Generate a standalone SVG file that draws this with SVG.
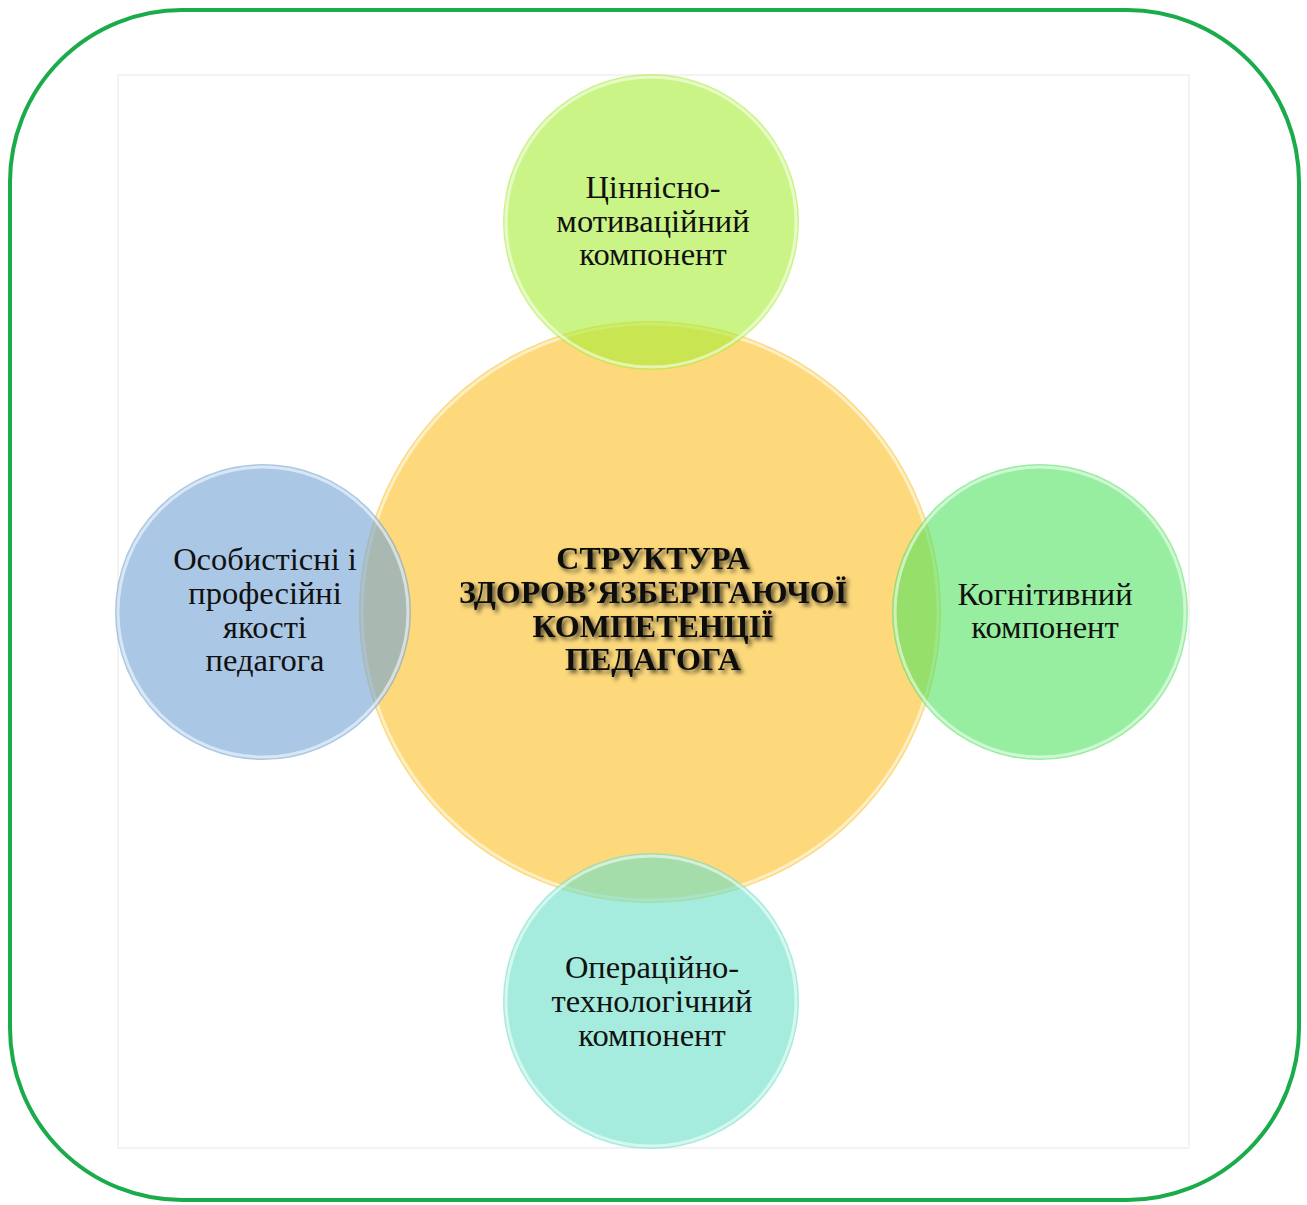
<svg xmlns="http://www.w3.org/2000/svg" width="1307" height="1205" viewBox="0 0 1307 1205">
<defs>
<filter id="shadow" x="-10%" y="-20%" width="120%" height="140%">
<feDropShadow dx="3" dy="3" stdDeviation="2" flood-color="#000000" flood-opacity="0.65"/>
</filter>
</defs>
<style>
.lbl{font-family:"Liberation Serif","Times New Roman",serif;font-size:32.5px;fill:#111111;text-anchor:middle}
.ttl{font-family:"Liberation Serif","Times New Roman",serif;font-size:32px;font-weight:bold;fill:#111111;text-anchor:middle}
.sat{fill-opacity:0.6}
.rim{fill:none;stroke:#ffffff;stroke-opacity:0.55;stroke-width:3}
</style>
<rect x="0" y="0" width="1307" height="1205" fill="#ffffff"/>
<rect x="10" y="10" width="1289" height="1190" rx="172" ry="172" fill="#ffffff" stroke="#1aab4b" stroke-width="4"/>
<rect x="118" y="75" width="1071" height="1073" fill="none" stroke="#efefef" stroke-width="1.5"/>
<g id="connectors"/>
<g id="center">
<circle cx="650" cy="612" r="291" fill="#fdd97c"/>
<circle cx="650" cy="612" r="288" class="rim" stroke-opacity="0.35"/>
</g>
<g id="top">
<circle cx="651" cy="222" r="148" fill="#a6ec35" class="sat"/>
<circle cx="651" cy="222" r="145" class="rim"/>
<text class="lbl" x="653" y="198">Ціннісно-</text>
<text class="lbl" x="653" y="232">мотиваційний</text>
<text class="lbl" x="653" y="265">компонент</text>
</g>
<g id="left">
<circle cx="263" cy="612" r="148" fill="#71a3d5" class="sat"/>
<circle cx="263" cy="612" r="145" class="rim"/>
<text class="lbl" x="265" y="570">Особистісні і</text>
<text class="lbl" x="265" y="604">професійні</text>
<text class="lbl" x="265" y="638">якості</text>
<text class="lbl" x="265" y="671">педагога</text>
</g>
<g id="right">
<circle cx="1040" cy="612" r="148" fill="#53e361" class="sat"/>
<circle cx="1040" cy="612" r="145" class="rim"/>
<text class="lbl" x="1045" y="605">Когнітивний</text>
<text class="lbl" x="1045" y="638">компонент</text>
</g>
<g id="bottom">
<circle cx="651" cy="1001" r="148" fill="#69dfc8" class="sat"/>
<circle cx="651" cy="1001" r="145" class="rim"/>
<text class="lbl" x="652" y="978">Операційно-</text>
<text class="lbl" x="652" y="1012">технологічний</text>
<text class="lbl" x="652" y="1046">компонент</text>
</g>
<g id="title" filter="url(#shadow)">
<text class="ttl" x="653" y="569">СТРУКТУРА</text>
<text class="ttl" x="653" y="603">ЗДОРОВ’ЯЗБЕРІГАЮЧОЇ</text>
<text class="ttl" x="653" y="637">КОМПЕТЕНЦІЇ</text>
<text class="ttl" x="653" y="670">ПЕДАГОГА</text>
</g>
</svg>
